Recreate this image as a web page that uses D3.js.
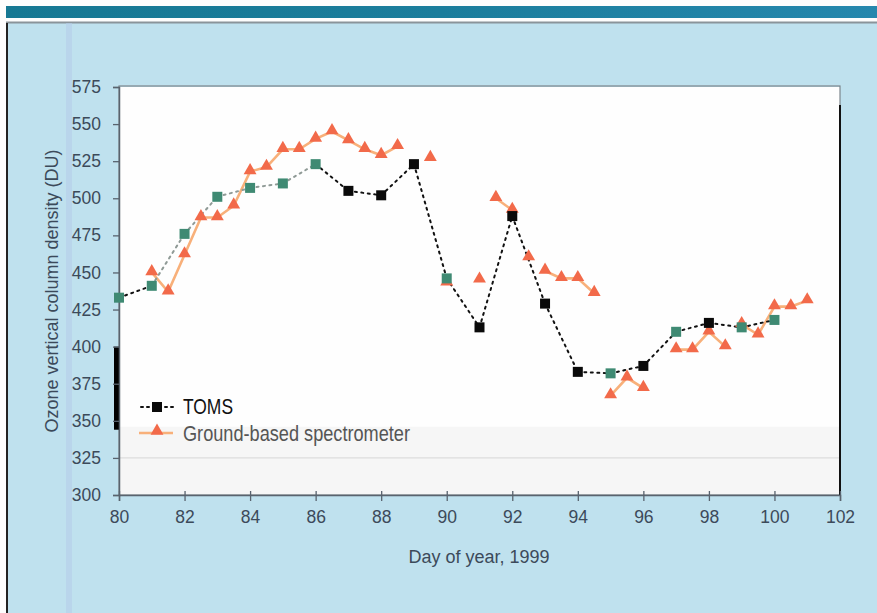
<!DOCTYPE html>
<html><head><meta charset="utf-8">
<script src="https://cdn.jsdelivr.net/npm/d3@7"></script>
<style>
html,body{margin:0;padding:0;background:#fff;}
svg{display:block;}
text{font-family:"Liberation Sans",Arial,Helvetica,sans-serif;}
</style></head>
<body>
<svg id="chart" width="877" height="613"></svg>
<script>
// ---- data ----
const tomsDays = [80,81,82,83,84,85,86,87,88,89,90,91,92,93,94,95,96,97,98,99,100];
const tomsValues = [433,441,476,501,507,510,523,505,502,523,446,413,488,429,383,382,387,410,416,413,418];

const groundDays = [81,81.5,82,82.5,83,83.5,84,84.5,85,85.5,86,86.5,87,87.5,88,88.5,89.5,90,91,91.5,92,92.5,93,93.5,94,94.5,95,95.5,96,97,97.5,98,98.5,99,99.5,100,100.5,101];
const groundValues = [450,437,462,487,487,495,518,521,533,533,540,545,539,533,529,535,527,443,445,500,492,460,451,446,446,436,367,379,372,398,398,410,400,415,408,427,427,431];
// days at which the printed spectrometer line restarts
const groundBreaks = [89.5,90,91,91.5,92.5,93,95,97,99];

const xTicks = [80,82,84,86,88,90,92,94,96,98,100,102];
const yTicks = [300,325,350,375,400,425,450,475,500,525,550,575];
const seriesNames = ["TOMS","Ground-based spectrometer"];
const xTitle = "Day of year, 1999";
const yTitle = "Ozone vertical column density (DU)";

// ---- layout ----
const svg = d3.select("#chart");
const L = 119, R = 840, T = 87, B = 495;
const x = d3.scaleLinear().domain([80,102]).range([L,R]);
const y = d3.scaleLinear().domain([300,575]).range([B,T]);

// page background
svg.append("rect").attr("width",877).attr("height",613).attr("fill","#fdfdfd");
svg.append("rect").attr("x",7).attr("y",23).attr("width",870).attr("height",590).attr("fill","#bfe1ee");
const grad = svg.append("defs").append("linearGradient").attr("id","band");
grad.append("stop").attr("offset","0").attr("stop-color","#167893");
grad.append("stop").attr("offset","0.5").attr("stop-color","#1b7d9c");
grad.append("stop").attr("offset","1").attr("stop-color","#2587ad");
svg.append("rect").attr("x",6).attr("y",6).attr("width",871).attr("height",12).attr("fill","url(#band)");
svg.append("rect").attr("x",6).attr("y",21.5).attr("width",871).attr("height",2).attr("fill","#8a949a");
svg.append("rect").attr("x",6).attr("y",23).attr("width",2).attr("height",590).attr("fill","#222");
svg.append("rect").attr("x",66).attr("y",23).attr("width",6).attr("height",590).attr("fill","#b5cdea").attr("opacity",0.6);

// plot area
svg.append("rect").attr("x",L).attr("y",T).attr("width",R-L).attr("height",B-T).attr("fill","#fefefe");
svg.append("rect").attr("x",L).attr("y",y(346)).attr("width",R-L).attr("height",B-y(346)).attr("fill","#f6f6f6");
svg.append("line").attr("x1",L).attr("x2",R).attr("y1",y(325)).attr("y2",y(325)).attr("stroke","#d6d6d6").attr("stroke-width",1);
svg.append("rect").attr("x",L).attr("y",T-1).attr("width",R-L).attr("height",B-T+1)
  .attr("fill","none").attr("stroke","#7c858c").attr("stroke-width",1.2);
svg.append("line").attr("x1",R).attr("x2",R).attr("y1",T+18).attr("y2",B).attr("stroke","#111").attr("stroke-width",2);
svg.append("rect").attr("x",L-5).attr("y",y(400)).attr("width",5).attr("height",y(344)-y(400)).attr("fill","#000");

// axes
const tickColor = "#3c4a5a";
const yAxis = svg.append("g").attr("transform",`translate(${L},0)`)
  .call(d3.axisLeft(y).tickValues(yTicks).tickSize(6).tickPadding(12));
const xAxis = svg.append("g").attr("transform",`translate(0,${B})`)
  .call(d3.axisBottom(x).tickValues(xTicks).tickSize(6).tickPadding(10));
[yAxis,xAxis].forEach(g=>{
  g.select(".domain").attr("stroke","#59636e").attr("stroke-width",1.5);
  g.selectAll(".tick line").attr("stroke","#59636e").attr("stroke-width",1.3);
  g.selectAll("text").attr("fill",tickColor).style("font-size","17.5px")
    .style("font-family","'Liberation Sans',Arial,sans-serif");
});
xAxis.selectAll(".tick line").attr("y1",-4);

// titles
svg.append("text").attr("x",479).attr("y",563).attr("text-anchor","middle")
  .attr("fill",tickColor).style("font-size","18px").text(xTitle);
svg.append("text").attr("transform","translate(58,291) rotate(-90)").attr("text-anchor","middle")
  .attr("fill",tickColor).style("font-size","18px").text(yTitle);

// ground-based spectrometer
const orange = "#f26a4a", lineOrange = "#f8b07a";
const ground = groundDays.map((d,i)=>({d, v: groundValues[i]}));
const segs = [];
ground.forEach(p=>{
  if (!segs.length || groundBreaks.includes(p.d)) segs.push([]);
  segs[segs.length-1].push(p);
});
const gLine = d3.line().x(p=>x(p.d)).y(p=>y(p.v));
svg.append("g").selectAll("path").data(segs).join("path")
  .attr("d",gLine).attr("fill","none").attr("stroke",lineOrange).attr("stroke-width",2.6);
const tri = d3.symbol().type(d3.symbolTriangle).size(72);

// TOMS
const toms = tomsDays.map((d,i)=>({d, v: tomsValues[i]}));
const pale = new Set([80,81,82,83,84,85,86,90,95,97,99,100]);
const tLine = d3.line().x(p=>x(p.d)).y(p=>y(p.v));
const pairs = d3.pairs(toms);
svg.append("g").selectAll("path").data(pairs).join("path")
  .attr("d",tLine).attr("fill","none")
  .attr("stroke",p=> (p[0].d>=81 && p[1].d<=86) ? "#8f9a96" : "#111")
  .attr("stroke-width",2).attr("stroke-dasharray","2,4.5").attr("stroke-linecap","round");

svg.append("g").selectAll("path").data(ground).join("path")
  .attr("transform",p=>`translate(${x(p.d)},${y(p.v)-1})`).attr("d",tri).attr("fill",orange);

svg.append("g").selectAll("rect").data(toms).join("rect")
  .attr("x",p=>x(p.d)-5).attr("y",p=>y(p.v)-5).attr("width",10).attr("height",10)
  .attr("fill",p=>pale.has(p.d) ? "#3f8a73" : "#0a0a0a");

// legend
const lg = svg.append("g");
lg.append("line").attr("x1",141).attr("x2",173).attr("y1",407).attr("y2",407)
  .attr("stroke","#111").attr("stroke-width",2).attr("stroke-dasharray","2,4").attr("stroke-linecap","round");
lg.append("rect").attr("x",152).attr("y",402).attr("width",10).attr("height",10).attr("fill","#0a0a0a");
lg.append("text").attr("x",183).attr("y",414).attr("fill","#111")
  .attr("textLength",50).attr("lengthAdjust","spacingAndGlyphs")
  .style("font-size","22px").text(seriesNames[0]);
lg.append("line").attr("x1",139).attr("x2",173).attr("y1",433).attr("y2",433)
  .attr("stroke",lineOrange).attr("stroke-width",2.6);
lg.append("path").attr("transform","translate(157,431)").attr("d",tri).attr("fill",orange);
lg.append("text").attr("x",183).attr("y",441).attr("fill","#555")
  .attr("textLength",227).attr("lengthAdjust","spacingAndGlyphs")
  .style("font-size","22px").text(seriesNames[1]);
</script>
</body></html>
